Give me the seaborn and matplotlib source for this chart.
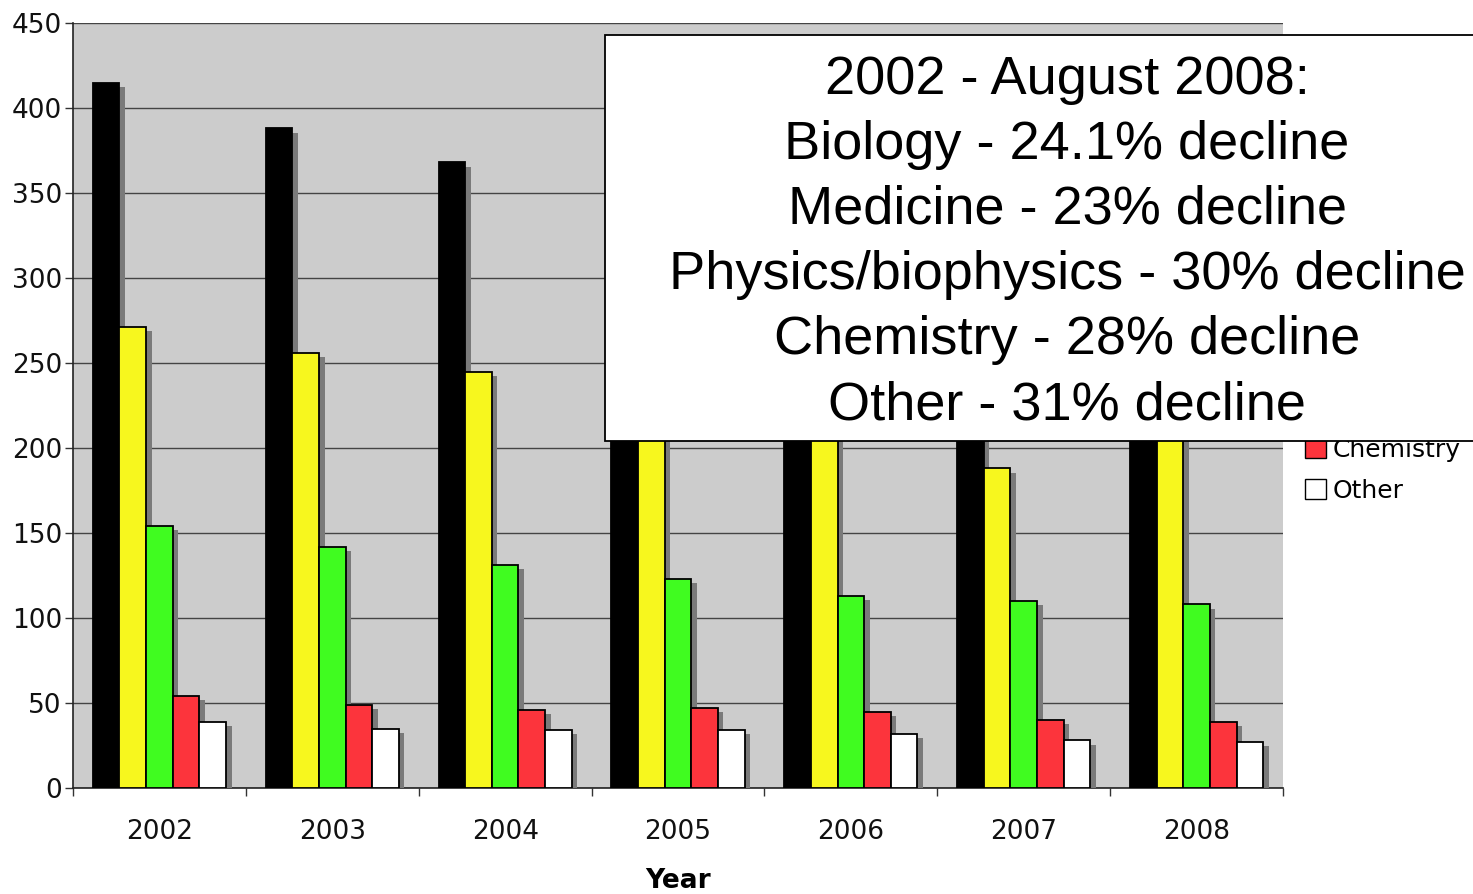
import numpy as np
import pandas as pd
import matplotlib
matplotlib.use("Agg")
import matplotlib.pyplot as plt
import matplotlib.patheffects as pe
from matplotlib.patches import Rectangle, Patch
import seaborn as sns

years = ["2002", "2003", "2004", "2005", "2006", "2007", "2008"]
fields = ["Biology", "Medicine", "Physics/biophysics", "Chemistry", "Other"]
biology = [415, 388, 368, 350, 335, 322, 315]
medicine = [271, 256, 245, 232, 220, 188, 209]
physics = [154, 142, 131, 123, 113, 110, 108]
chemistry = [54, 49, 46, 47, 45, 40, 39]
other = [39, 35, 34, 34, 32, 28, 27]
colors = ["#000000", "#f7f71e", "#40fc20", "#fc343c", "#ffffff"]
box_lines = ["2002 - August 2008:", "Biology - 24.1% decline", "Medicine - 23% decline",
             "Physics/biophysics - 30% decline", "Chemistry - 28% decline", "Other - 31% decline"]

series = [biology, medicine, physics, chemistry, other]
rows = []
for f, vals in zip(fields, series):
    for y, v in zip(years, vals):
        rows.append({"Year": y, "Field": f, "Count": v})
df = pd.DataFrame(rows)

sns.set_theme(style="white")
plt.rcParams["font.family"] = ["DejaVu Sans"]
plt.rcParams["text.color"] = "black"
plt.rcParams["axes.labelcolor"] = "black"
plt.rcParams["xtick.color"] = "black"
plt.rcParams["ytick.color"] = "black"

fig = plt.figure(figsize=(14.73, 8.94), dpi=100)
ax = fig.add_axes([73/1473, 106/894, 1210/1473, 765/894])
ax.set_facecolor("#cccccc")

sns.barplot(data=df, x="Year", y="Count", hue="Field", hue_order=fields,
            palette=colors, saturation=1, width=0.77, edgecolor="black", linewidth=1.3,
            ax=ax, legend=False, zorder=3)

for p in ax.patches:
    p.set_path_effects([pe.SimplePatchShadow(offset=(4, -3), shadow_rgbFace="#7a7a7a", alpha=1.0),
                        pe.Normal()])

ax.set_ylim(0, 450)
ax.set_xlim(-0.5, 6.5)
ax.set_yticks(np.arange(0, 451, 50))
ax.yaxis.grid(True, color="#444444", linewidth=1.0, zorder=0)
ax.set_axisbelow(True)
ax.set_ylabel("")
ax.set_xlabel("Year", fontsize=19, fontweight="bold", labelpad=17)

ax.set_xticks(np.arange(7))
ax.set_xticklabels(years)
ax.set_xticks(np.arange(-0.5, 7.0, 1.0), minor=True)
ax.tick_params(axis="x", which="major", length=0, pad=22, labelsize=19, colors="#111111")
ax.tick_params(axis="x", which="minor", length=6, width=1, color="#333333", direction="out", bottom=True)
ax.tick_params(axis="y", length=6, width=1, color="#333333", direction="out", left=True, pad=2,
               labelsize=19, labelcolor="#111111")

for s in ["top", "right"]:
    ax.spines[s].set_visible(False)
ax.spines["left"].set_color("#222222")
ax.spines["bottom"].set_color("#222222")
ax.spines["left"].set_linewidth(1.2)
ax.spines["bottom"].set_linewidth(1.2)

handles = [Patch(facecolor=c, edgecolor="black", linewidth=1) for c in colors]
fig.legend(handles, fields, loc="upper left", bbox_to_anchor=(1295/1473, 1 - 303/894),
           frameon=False, fontsize=18, handlelength=0.85, handleheight=0.85,
           handletextpad=0.25, labelspacing=0.7, borderaxespad=0)

rect = Rectangle((605/1473, 1 - 441/894), 0.6, (441 - 35)/894, transform=fig.transFigure,
                 facecolor="white", edgecolor="black", linewidth=1.3, zorder=10)
fig.patches.append(rect)
baselines = [94, 159, 224, 289, 354, 419]
for t, yy in zip(box_lines, baselines):
    fig.text(1067/1473, 1 - yy/894, t, ha="center", va="baseline", fontsize=39, color="black",
             family=["Liberation Sans", "DejaVu Sans"], zorder=11)

fig.savefig("out.png", dpi=100)
